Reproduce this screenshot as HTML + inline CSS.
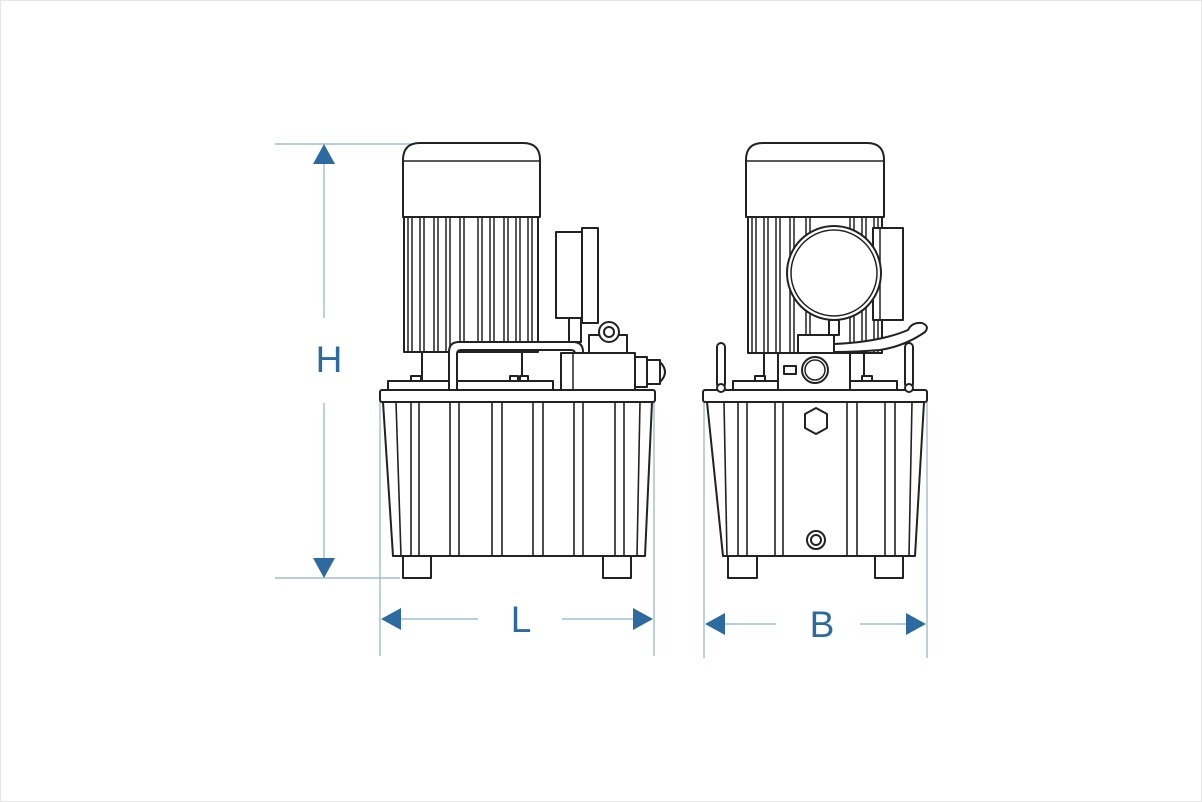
<!DOCTYPE html>
<html><head><meta charset="utf-8"><style>
html,body{margin:0;padding:0;background:#fff;}
svg{display:block}
text{font-family:"Liberation Sans",sans-serif;fill:#2d6aa0}
</style></head><body>
<svg width="1202" height="802" viewBox="0 0 1202 802" xmlns="http://www.w3.org/2000/svg">
<rect x="0.5" y="0.5" width="1201" height="801" fill="#fff" stroke="#e6e6e6"/>
<g stroke="#8fb0c8" stroke-width="1.2" fill="none">
<line x1="275" y1="144" x2="420" y2="144"/>
<line x1="275" y1="578" x2="400" y2="578"/>
<line x1="324" y1="162" x2="324" y2="318"/>
<line x1="324" y1="403" x2="324" y2="560"/>
<line x1="380" y1="395" x2="380" y2="656"/>
<line x1="654" y1="395" x2="654" y2="656"/>
<line x1="400" y1="619" x2="478" y2="619"/>
<line x1="562" y1="619" x2="636" y2="619"/>
<line x1="704" y1="395" x2="704" y2="658"/>
<line x1="927" y1="395" x2="927" y2="658"/>
<line x1="722" y1="624" x2="776" y2="624"/>
<line x1="860" y1="624" x2="909" y2="624"/>
</g>
<g fill="#2d6aa0">
<polygon points="324,144 313,164 335,164"/>
<polygon points="324,578 313,558 335,558"/>
<polygon points="381,619 401,608 401,630"/>
<polygon points="653,619 633,608 633,630"/>
<polygon points="705,624 725,613 725,635"/>
<polygon points="926,624 906,613 906,635"/>
</g>
<text x="329" y="372" font-size="37" text-anchor="middle">H</text>
<text x="521" y="632" font-size="37" text-anchor="middle">L</text>
<text x="822" y="637" font-size="37" text-anchor="middle">B</text>

<g stroke="#222" stroke-width="2" fill="#fff" stroke-linejoin="round">
<!-- LEFT MACHINE -->
<rect x="403" y="556" width="28" height="22"/>
<rect x="603" y="556" width="28" height="22"/>
<polygon points="383,402 652,402 645,556 393,556"/>
<g stroke-width="1.6">
<line x1="396" y1="402" x2="401" y2="556"/><line x1="411" y1="402" x2="411" y2="556"/><line x1="419" y1="402" x2="419" y2="556"/>
<line x1="450" y1="402" x2="450" y2="556"/><line x1="459" y1="402" x2="459" y2="556"/>
<line x1="492" y1="402" x2="492" y2="556"/><line x1="502" y1="402" x2="502" y2="556"/>
<line x1="533" y1="402" x2="533" y2="556"/><line x1="543" y1="402" x2="543" y2="556"/>
<line x1="574" y1="402" x2="574" y2="556"/><line x1="583" y1="402" x2="583" y2="556"/>
<line x1="615" y1="402" x2="615" y2="556"/><line x1="624" y1="402" x2="624" y2="556"/>
<line x1="640" y1="402" x2="637" y2="556"/>
</g>
<rect x="380" y="390" width="275" height="12" rx="2"/>
<rect x="388" y="381" width="165" height="9"/>
<rect x="422" y="352" width="100" height="29"/>
<rect x="411" y="376" width="10" height="5"/><rect x="510" y="376" width="8" height="5"/><rect x="520" y="376" width="8" height="5"/>
<!-- motor -->
<rect x="404" y="217" width="134" height="135"/>
<g stroke-width="1.5">
<line x1="408" y1="217" x2="408" y2="352"/><line x1="412" y1="217" x2="412" y2="352"/>
<line x1="420" y1="217" x2="420" y2="352"/><line x1="424" y1="217" x2="424" y2="352"/>
<line x1="434" y1="217" x2="434" y2="352"/><line x1="438" y1="217" x2="438" y2="352"/>
<line x1="446" y1="217" x2="446" y2="352"/><line x1="450" y1="217" x2="450" y2="352"/>
<line x1="460" y1="217" x2="460" y2="352"/><line x1="464" y1="217" x2="464" y2="352"/>
<line x1="478" y1="217" x2="478" y2="352"/><line x1="482" y1="217" x2="482" y2="352"/>
<line x1="490" y1="217" x2="490" y2="352"/><line x1="494" y1="217" x2="494" y2="352"/>
<line x1="504" y1="217" x2="504" y2="352"/><line x1="508" y1="217" x2="508" y2="352"/>
<line x1="516" y1="217" x2="516" y2="352"/><line x1="520" y1="217" x2="520" y2="352"/>
<line x1="528" y1="217" x2="528" y2="352"/><line x1="532" y1="217" x2="532" y2="352"/>
</g>
<path d="M403,217 V160 Q403,143 420,143 H523 Q540,143 540,160 V217 Z"/>
<line x1="403" y1="161" x2="540" y2="161" stroke-width="1.5"/>
<!-- U tube -->
<path d="M449,390 V352 Q449,342 459,342 H573 Q583,342 583,352 V390 H575 V354 Q575,350 571,350 H461 Q457,350 457,354 V390 Z"/>
<!-- gauge -->
<rect x="569" y="318" width="12" height="24"/>
<rect x="556" y="232" width="26" height="86"/>
<rect x="582" y="228" width="16" height="95"/>
<!-- valve -->
<rect x="561" y="353" width="74" height="37"/>
<line x1="573" y1="353" x2="573" y2="390" stroke-width="1.5"/>
<rect x="589" y="335" width="38" height="18"/>
<circle cx="609" cy="332" r="10"/><circle cx="609" cy="332" r="5"/>
<rect x="635" y="357" width="12" height="30"/>
<rect x="647" y="360" width="13" height="24"/>
<path d="M660,362 Q670,372 660,382 Z"/>
<!-- RIGHT MACHINE -->
<rect x="728" y="556" width="29" height="22"/>
<rect x="875" y="556" width="28" height="22"/>
<polygon points="707,402 924,402 915,556 723,556"/>
<g stroke-width="1.6">
<line x1="724" y1="402" x2="727" y2="556"/><line x1="738" y1="402" x2="738" y2="556"/><line x1="747" y1="402" x2="747" y2="556"/>
<line x1="775" y1="402" x2="775" y2="556"/><line x1="783" y1="402" x2="783" y2="556"/>
<line x1="847" y1="402" x2="847" y2="556"/><line x1="857" y1="402" x2="857" y2="556"/>
<line x1="885" y1="402" x2="885" y2="556"/><line x1="895" y1="402" x2="895" y2="556"/>
<line x1="912" y1="402" x2="909" y2="556"/>
</g>
<polygon points="816,408 827,414 827,428 816,434 805,428 805,414"/>
<circle cx="816" cy="540" r="9"/><circle cx="816" cy="540" r="5"/>
<rect x="703" y="390" width="224" height="12" rx="2"/>
<rect x="733" y="381" width="164" height="9"/>
<rect x="717" y="343" width="8" height="45" rx="4"/><circle cx="721" cy="388" r="4"/>
<rect x="905" y="343" width="8" height="45" rx="4"/><circle cx="909" cy="388" r="4"/>
<rect x="764" y="352" width="100" height="29"/>
<rect x="755" y="376" width="10" height="5"/><rect x="862" y="376" width="10" height="5"/>
<rect x="748" y="217" width="134" height="136"/>
<g stroke-width="1.5">
<line x1="752" y1="217" x2="752" y2="353"/><line x1="756" y1="217" x2="756" y2="353"/>
<line x1="764" y1="217" x2="764" y2="353"/><line x1="768" y1="217" x2="768" y2="353"/>
<line x1="776" y1="217" x2="776" y2="353"/><line x1="780" y1="217" x2="780" y2="353"/>
<line x1="790" y1="217" x2="790" y2="353"/><line x1="794" y1="217" x2="794" y2="353"/>
<line x1="806" y1="217" x2="806" y2="353"/><line x1="810" y1="217" x2="810" y2="353"/>
<line x1="850" y1="217" x2="850" y2="353"/><line x1="854" y1="217" x2="854" y2="353"/>
<line x1="862" y1="217" x2="862" y2="353"/><line x1="866" y1="217" x2="866" y2="353"/>
<line x1="874" y1="217" x2="874" y2="353"/><line x1="878" y1="217" x2="878" y2="353"/>
</g>
<path d="M746,217 V160 Q746,143 763,143 H867 Q884,143 884,160 V217 Z"/>
<line x1="746" y1="161" x2="884" y2="161" stroke-width="1.5"/>
<rect x="873" y="228" width="30" height="92"/>
<line x1="880" y1="228" x2="880" y2="320" stroke-width="1.5"/>
<circle cx="834" cy="273" r="47"/><circle cx="834" cy="273" r="43" stroke-width="1.5"/>
<rect x="829" y="320" width="10" height="15"/>
<rect x="778" y="353" width="72" height="37"/>
<rect x="798" y="335" width="36" height="18"/>
<path d="M834,344 Q880,342 908,330 Q912,322 922,323 Q930,326 925,332 Q905,346 880,350 Q855,352 834,352 Z"/>
<rect x="784" y="366" width="12" height="8"/>
<circle cx="815" cy="370" r="13"/><circle cx="815" cy="370" r="10" stroke-width="1.5"/>
</g>
</svg>
</body></html>
